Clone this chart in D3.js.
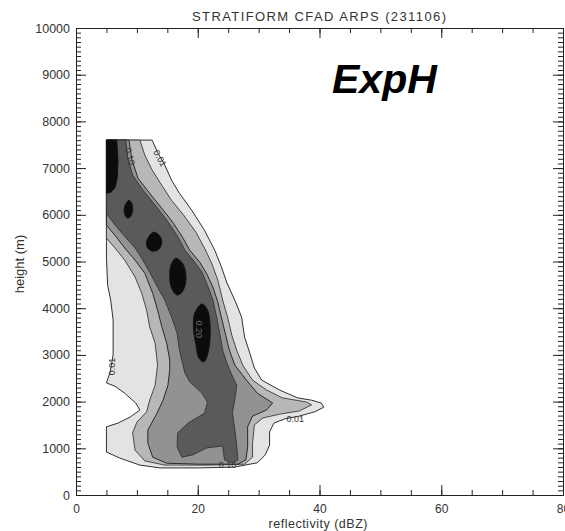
<!DOCTYPE html>
<html><head><meta charset="utf-8">
<script src="https://cdn.jsdelivr.net/npm/d3@7/dist/d3.min.js"></script>
<style>body{margin:0;background:#fff;} svg{display:block;}</style>
</head><body>
<svg id="chart" width="565" height="531"></svg>
<script>
// ---- data (reflectivity dBZ, height m) ----
const xTicks = [0, 20, 40, 60, 80];
const xMinorTicks = d3.range(0, 81, 5);
const yTicks = [0,1000,2000,3000,4000,5000,6000,7000,8000,9000,10000];
const yMinorTicks = d3.range(0, 10001, 100);
const levels = ["0.01", "0.05", "0.10", "0.15", "0.20"];

const contour001 = [[5,7600],[12.5,7600],[13.4,7340],[14.6,7060],[15.7,6740],[17.0,6460],[19.0,6100],[21.1,5670],[22.8,5240],[23.9,4880],[24.8,4540],[26.1,4170],[27.2,3810],[27.7,3380],[28.5,3060],[29.3,2720],[30.5,2460],[33.4,2250],[36.4,2080],[38.7,2030],[40.3,1970],[40.7,1880],[39.2,1780],[36.7,1690],[34.3,1630],[32.5,1540],[31.8,1350],[31.8,1070],[31.1,860],[29.8,690],[26.1,600],[20.3,580],[13.8,580],[10.5,640],[7.2,790],[5,920],[5,1460],[6.9,1540],[8.9,1670],[10.5,1820],[9.8,1970],[8.0,2180],[6.4,2330],[5,2400],[5.6,2630],[6.1,3000],[6.1,3750],[5.7,4170],[5.2,4490],[5,5070]];

const contour005 = [[5,7600],[10.5,7600],[11.3,7280],[12.5,6960],[14.1,6630],[15.7,6310],[17.7,5990],[19.7,5630],[21.1,5290],[22.3,4960],[23.3,4600],[24.1,4170],[24.9,3810],[25.6,3420],[26.4,3100],[27.4,2780],[29.0,2460],[31.3,2250],[33.9,2080],[37.9,1990],[38.7,1930],[36.7,1800],[33.4,1730],[30.7,1650],[29.3,1500],[29.0,1110],[29.0,810],[27.7,660],[22.0,640],[14.6,640],[11.3,730],[9.7,960],[9.3,1330],[10.0,1560],[11.6,1780],[12.1,2030],[13.0,2350],[13.4,2780],[13.0,3250],[12.1,3600],[11.6,3960],[10.8,4320],[9.7,4670],[8.0,5030],[6.4,5290],[5,5500]];

const contour010 = [[5,7600],[8.7,7600],[9.2,7170],[10.2,6780],[12.1,6460],[14.1,6140],[15.9,5840],[17.5,5520],[18.7,5240],[20.3,4990],[21.5,4730],[22.5,4450],[23.3,4130],[23.9,3790],[24.6,3420],[25.2,3100],[26.1,2780],[28.0,2460],[29.8,2180],[32.3,1970],[31.3,1820],[29.0,1690],[28.2,1460],[28.2,1030],[27.9,750],[26.6,660],[20.3,660],[14.9,680],[12.6,810],[11.8,1110],[11.8,1390],[13.3,1750],[14.3,2030],[15.1,2350],[15.4,2680],[15.4,2890],[14.9,3250],[14.1,3600],[13.4,3960],[12.6,4320],[11.3,4750],[9.7,5030],[8.0,5290],[6.4,5560],[5,5780]];

const contour015 = [[5,7600],[8.2,7600],[8.5,7210],[9.3,6850],[11.0,6530],[13.0,6210],[14.9,5890],[16.6,5560],[17.9,5240],[19.5,4990],[20.7,4770],[21.6,4490],[22.5,4170],[23.1,3810],[23.6,3470],[24.1,3100],[24.8,2820],[25.6,2570],[26.4,2350],[26.2,2140],[25.7,1750],[26.1,1390],[26.4,1070],[26.6,750],[25.7,690],[24.4,750],[24.1,1050],[21.5,1010],[19.2,860],[17.4,810],[16.6,1030],[16.7,1330],[18.4,1540],[21.1,1750],[21.6,1990],[20.7,2180],[18.7,2420],[17.9,2610],[17.5,2820],[17.0,3100],[16.6,3470],[15.7,3810],[14.6,4170],[13.4,4450],[12.1,4770],[10.8,5070],[9.7,5290],[8.0,5540],[6.4,5780],[5,6030]];

const contour020 = [
  [[5,7600],[6.7,7600],[6.9,7170],[6.8,6800],[6.4,6580],[5.7,6480],[5,6460]],
  [[8.7,6310],[9.2,6230],[9.3,6100],[9.0,5970],[8.5,5930],[8.0,6010],[8.0,6180]],
  [[12.8,5630],[13.8,5540],[14.1,5410],[13.6,5260],[12.5,5220],[11.6,5330],[11.8,5500]],
  [[16.4,5070],[17.5,4960],[18.0,4770],[18.0,4540],[17.4,4340],[16.6,4280],[15.7,4430],[15.4,4690],[15.6,4920]],
  [[20.7,4090],[21.6,3960],[22.0,3700],[22.0,3320],[21.6,3000],[21.0,2850],[20.2,2930],[19.7,3210],[19.3,3570],[19.5,3890]]
];

const labelTexts = ["0.01", "0.10", "0.01", "0.20", "0.01", "0.10"];
const labelAnchors = [[13.8,7210],[8.9,7250],[5.9,2750],[20.3,3550],[36.0,1640],[24.9,640]];

// ---- drawing ----
const x = d3.scaleLinear().domain([0, 80]).range([76, 563]);
const y = d3.scaleLinear().domain([0, 10000]).range([495, 28]);
const svg = d3.select("#chart");
const font = "'Liberation Sans', Arial, sans-serif";

svg.append("defs").append("clipPath").attr("id", "plotclip")
  .append("rect").attr("x", x(0)).attr("y", y(10000))
  .attr("width", x(80) - x(0)).attr("height", y(0) - y(10000));

const fills = ["#e3e3e3", "#b7b7b7", "#929292", "#5a5a5a", "#0c0c0c"];
const strokes = ["#1a1a1a", "#3a3a3a", "#1a1a1a", "#333333", "#111111"];
const line = d3.line().x(d => x(d[0])).y(d => y(d[1])).curve(d3.curveLinearClosed);
const blobLine = d3.line().x(d => x(d[0])).y(d => y(d[1])).curve(d3.curveCatmullRomClosed.alpha(0.5));

const g = svg.append("g").attr("clip-path", "url(#plotclip)");
const polys = [[contour001], [contour005], [contour010], [contour015], contour020];
polys.forEach((set, i) => {
  set.forEach((p, j) => {
    g.append("path").attr("d", (i === 4 && j > 0) ? blobLine(p) : line(p))
      .attr("fill", fills[i]).attr("stroke", strokes[i])
      .attr("stroke-width", 0.9).attr("stroke-linejoin", "round");
  });
});

// contour labels
const labelRot = [62, 75, -90, 90, 0, 0];
labelTexts.forEach((t, i) => {
  const px = x(labelAnchors[i][0]), py = y(labelAnchors[i][1]);
  g.append("text").attr("transform", `translate(${px},${py}) rotate(${labelRot[i]})`)
    .attr("text-anchor", "middle").attr("dy", "0.35em")
    .attr("font-family", font).attr("font-size", 9)
    .attr("fill", i === 3 ? "#6a6a6a" : "#333").text(t);
});

// axes
const axisColor = "#222";
function styleAxis(sel, size) {
  sel.select(".domain").attr("stroke", axisColor);
  sel.selectAll(".tick line").attr("stroke", axisColor);
  sel.selectAll("text").attr("font-family", font).attr("font-size", size || 12.5).attr("fill", "#333");
}
// bottom
svg.append("g").attr("transform", `translate(0,${y(0)})`)
  .call(d3.axisBottom(x).tickValues(xMinorTicks).tickSize(-5).tickFormat(""))
  .call(styleAxis);
svg.append("g").attr("transform", `translate(0,${y(0)})`)
  .call(d3.axisBottom(x).tickValues(xTicks).tickSize(-10).tickPadding(9).tickFormat(d3.format("d")))
  .call(styleAxis, 12).call(s => s.select(".domain").remove());
// top
svg.append("g").attr("transform", `translate(0,${y(10000)})`)
  .call(d3.axisTop(x).tickValues(xMinorTicks).tickSize(-5).tickFormat(""))
  .call(styleAxis);
svg.append("g").attr("transform", `translate(0,${y(10000)})`)
  .call(d3.axisTop(x).tickValues(xTicks).tickSize(-10).tickFormat(""))
  .call(styleAxis).call(s => s.select(".domain").remove());
// left
svg.append("g").attr("transform", `translate(${x(0)},0)`)
  .call(d3.axisLeft(y).tickValues(yMinorTicks).tickSize(-5).tickFormat(""))
  .call(styleAxis);
svg.append("g").attr("transform", `translate(${x(0)},0)`)
  .call(d3.axisLeft(y).tickValues(yTicks).tickSize(-10).tickPadding(6).tickFormat(d3.format("d")))
  .call(styleAxis).call(s => s.select(".domain").remove());
// right
svg.append("g").attr("transform", `translate(${x(80)},0)`)
  .call(d3.axisRight(y).tickValues(yMinorTicks).tickSize(-5).tickFormat(""))
  .call(styleAxis);
svg.append("g").attr("transform", `translate(${x(80)},0)`)
  .call(d3.axisRight(y).tickValues(yTicks).tickSize(-10).tickFormat(""))
  .call(styleAxis).call(s => s.select(".domain").remove());

// titles
svg.append("text").attr("x", 319).attr("y", 21).attr("text-anchor", "middle")
  .attr("font-family", font).attr("font-size", 13).attr("fill", "#333")
  .attr("textLength", 254).attr("lengthAdjust", "spacing")
  .text("STRATIFORM CFAD ARPS (231106)");
svg.append("text").attr("x", 318).attr("y", 528).attr("text-anchor", "middle")
  .attr("font-family", font).attr("font-size", 12.5).attr("fill", "#333")
  .attr("textLength", 99).attr("lengthAdjust", "spacing")
  .text("reflectivity (dBZ)");
svg.append("text").attr("transform", "translate(24,264) rotate(-90)").attr("text-anchor", "middle")
  .attr("font-family", font).attr("font-size", 13).attr("fill", "#333")
  .text("height (m)");
svg.append("text").attr("x", 332).attr("y", 93)
  .attr("font-family", font).attr("font-size", 41).attr("font-weight", "bold").attr("font-style", "italic")
  .attr("fill", "#000").text("ExpH");
</script>
</body></html>
